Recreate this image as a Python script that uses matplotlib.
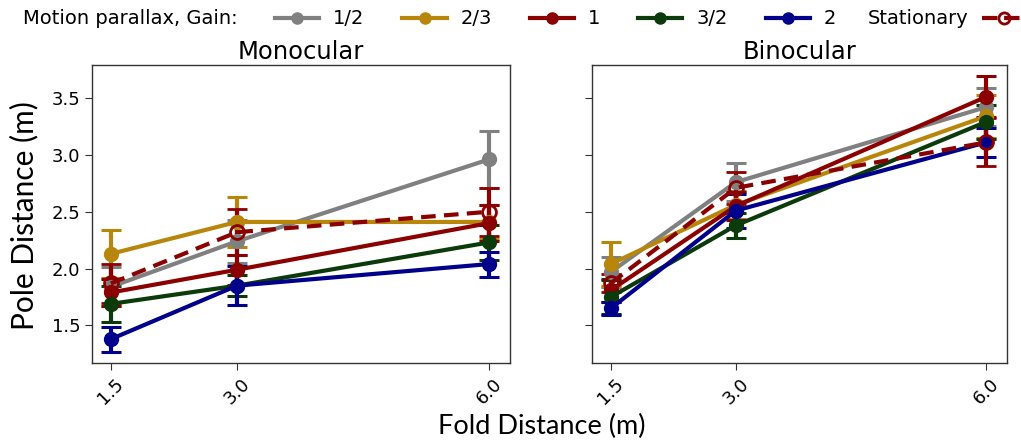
import matplotlib
matplotlib.use("Agg")
import matplotlib.pyplot as plt
from matplotlib.lines import Line2D

# Fold distances (m)
fold = [1.5, 3.0, 6.0]
tick_labels = ["1.5", "3.0", "6.0"]

gain_labels = ["1/2", "2/3", "1", "3/2", "2"]
gain_colors = ["#808080", "#b8860b", "#8b0000", "#0b3a0b", "#00008b"]

# Monocular: mean pole distance and standard error per gain
mono_means = [
    [1.84, 2.24, 2.96],
    [2.13, 2.41, 2.41],
    [1.79, 1.99, 2.40],
    [1.69, 1.85, 2.23],
    [1.38, 1.85, 2.04],
]
mono_errs = [
    [0.17, 0.19, 0.25],
    [0.21, 0.22, 0.15],
    [0.12, 0.13, 0.16],
    [0.16, 0.09, 0.15],
    [0.11, 0.17, 0.11],
]
mono_stat_mean = [1.87, 2.32, 2.50]
mono_stat_err = [0.17, 0.20, 0.21]

# Binocular
bino_means = [
    [1.97, 2.76, 3.42],
    [2.04, 2.56, 3.34],
    [1.81, 2.55, 3.51],
    [1.75, 2.38, 3.29],
    [1.65, 2.51, 3.11],
]
bino_errs = [
    [0.13, 0.17, 0.17],
    [0.19, 0.12, 0.19],
    [0.10, 0.12, 0.18],
    [0.15, 0.11, 0.15],
    [0.06, 0.15, 0.13],
]
bino_stat_mean = [1.87, 2.71, 3.11]
bino_stat_err = [0.08, 0.14, 0.21]

stat_color = "#8b0000"

W, H = 1021, 444
fig = plt.figure(figsize=(W / 100, H / 100), dpi=100)
ax1 = fig.add_axes([0.0901, 0.1824, 0.4094, 0.6712])
ax2 = fig.add_axes([0.5798, 0.1824, 0.4065, 0.6712], sharey=ax1)

LW = 3.0
MS = 10
CAP = 7.5

def draw(ax, means, errs, smean, serr, title):
    for m, e, c in zip(means, errs, gain_colors):
        ax.errorbar(fold, m, yerr=e, color=c, lw=LW, elinewidth=LW,
                    capsize=CAP, capthick=2.2, marker="o", ms=MS)
    ax.errorbar(fold, smean, yerr=serr, color=stat_color, lw=LW, ls="--",
                dashes=(3.5, 2), elinewidth=LW, capsize=CAP, capthick=2.2,
                marker="o", ms=MS, mfc="none", mec=stat_color, mew=2)
    ax.set_xticks(fold)
    ax.set_xticklabels(tick_labels, rotation=45, fontsize=13)
    ax.set_title(title, fontsize=17.5, pad=4)
    ax.tick_params(axis="both", labelsize=13, length=5, color="#333333")
    for s in ax.spines.values():
        s.set_color("#333333")
        s.set_linewidth(1.0)

draw(ax1, mono_means, mono_errs, mono_stat_mean, mono_stat_err, "Monocular")
draw(ax2, bino_means, bino_errs, bino_stat_mean, bino_stat_err, "Binocular")
ax1.set_ylim(1.17, 3.79)
ax1.set_yticks([1.5, 2.0, 2.5, 3.0, 3.5])
ax1.set_xlim(1.275, 6.25)
ax2.set_xlim(1.275, 6.25)
plt.setp(ax2.get_yticklabels(), visible=False)

fig.text(24 / W, 1 - 216 / H, "Pole Distance (m)", fontsize=21.5,
         family="Lato", rotation=90, ha="center", va="center")
fig.text(542 / W, 1 - 426 / H, "Fold Distance (m)", fontsize=19.5,
         family="Lato", ha="center", va="center")

# Legend row
LEG_Y = 1 - 19 / H
fig.text(23 / W, LEG_Y, "Motion parallax, Gain:", fontsize=14,
         ha="left", va="center")
handles = [Line2D([], [], color=c, lw=LW, marker="o", ms=8) for c in gain_colors]
fig.legend(handles, gain_labels, loc="center left",
           bbox_to_anchor=(275 / W, LEG_Y), ncol=5, frameon=False,
           fontsize=14, handlelength=2.27, columnspacing=1.95,
           handletextpad=0.72, borderpad=0, borderaxespad=0)
stat_handle = Line2D([], [], color=stat_color, lw=LW, ls="--", marker="o",
                     ms=8, mfc="none", mew=2)
fig.legend([stat_handle], ["Stationary"], loc="center left",
           bbox_to_anchor=(868 / W, LEG_Y), frameon=False, fontsize=14,
           markerfirst=False, handlelength=2.27, handletextpad=0.7,
           borderpad=0, borderaxespad=0)

fig.savefig("out.png", dpi=100)
